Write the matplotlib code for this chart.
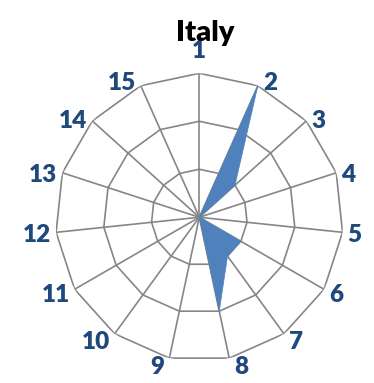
import numpy as np
import matplotlib.pyplot as plt

# Italy scores per item (1..15)
categories = [str(i) for i in range(1, 16)]
values = [0, 3, 1, 0, 0, 1, 1, 2, 0, 0, 0, 0, 0, 0, 0]
ring_levels = [1, 2, 3]
r_max = 3

GRID = '#868686'
FILL = '#4F81BD'
LABEL = '#1F497D'

plt.rcParams['font.family'] = ['Lato', 'DejaVu Sans']

fig = plt.figure(figsize=(3.74, 3.83), dpi=100)
ax = fig.add_axes([0.1479, 0.0567, 0.770, 0.752], projection='polar')
ax.set_theta_offset(np.pi / 2)
ax.set_theta_direction(-1)
ax.set_ylim(0, r_max)
ax.grid(False)
ax.set_xticks([])
ax.set_yticks([])
ax.spines['polar'].set_visible(False)

n = len(categories)
angles = np.linspace(0, 2 * np.pi, n, endpoint=False)
closed = np.append(angles, angles[0])

# polygonal web: rings and spokes
for lvl in ring_levels:
    ax.plot(closed, [lvl] * (n + 1), color=GRID, lw=1.2, zorder=1)
for a in angles:
    ax.plot([a, a], [0, r_max], color=GRID, lw=1.2, zorder=1)

vals = np.append(values, values[0])
ax.fill(closed, vals, color=FILL, zorder=2, lw=0.5, ec=FILL)

# category labels sit beside the outer vertex, left/right depending on side
for a, lab in zip(angles, categories):
    s, c = np.sin(a), np.cos(a)
    if abs(s) < 0.05:
        ha, va, off = 'center', 'bottom', (0, 11)
    else:
        ha = 'left' if s > 0 else 'right'
        va = 'center'
        dy = 6 * c * c if c > 0 else 7 * c
        off = (5 if s > 0 else -5, dy - 2.4)
    ax.annotate(lab, xy=(a, r_max), xytext=off, textcoords='offset pixels',
                ha=ha, va=va, fontsize=17.5, fontweight='heavy', color=LABEL)

fig.text(0.548, 0.8937, 'Italy', ha='center', va='baseline',
         fontsize=21, fontweight='heavy', color='black')

fig.savefig('out.png', dpi=100)
